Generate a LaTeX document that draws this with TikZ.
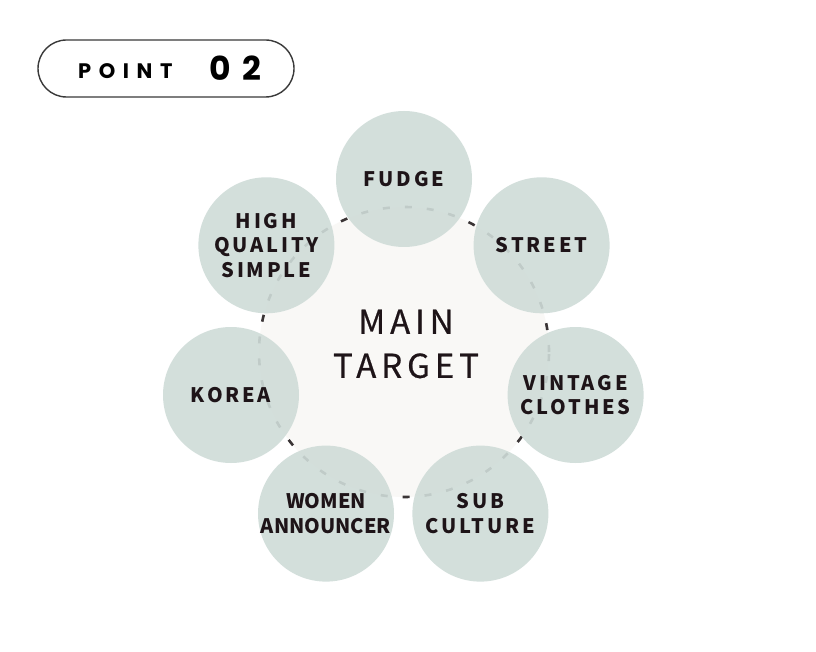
\documentclass[tikz,border=0pt]{standalone}
\usepackage{fontspec}
\usepackage{xcolor}
\usepackage{tikz}
\newfontfamily\lblfont{Noto Sans CJK KR}[LetterSpace=14]
\newfontfamily\hubfont{Noto Sans CJK KR}[LetterSpace=15,FakeBold=0.6]
\newfontfamily\tightfont{Noto Sans CJK KR}[LetterSpace=0]
\newfontfamily\badgefont{Poppins}[LetterSpace=36]
\definecolor{ink}{HTML}{1E1418}
\definecolor{sage}{HTML}{CFDCD8}
\definecolor{paper}{HTML}{F9F8F6}
\definecolor{dashc}{HTML}{3A3435}
\definecolor{rim}{HTML}{3A3A3A}

\begin{document}
\begin{tikzpicture}[
  x=1pt,
  y=-1pt,
  hub/.style={circle, draw=dashc, line width=2.6pt, dash pattern=on 7pt off 15pt, fill=paper, minimum size=290pt, inner sep=0pt},
  sat/.style={circle, fill=sage, fill opacity=0.9, text opacity=1, minimum size=136pt, inner sep=0pt, align=center, text=ink, font=\lblfont\bfseries\fontsize{20}{24.5}\selectfont},
  badge/.style={draw=rim, line width=1.4pt, rounded corners=28.5pt, minimum width=256pt, minimum height=57pt, inner sep=0pt}
]
  \useasboundingbox[fill=white] (0,0) rectangle (816,652);

  % badge
  \node[badge] (badge) at (166,68.5) {};
  \node[anchor=base west, inner sep=0pt, text=black, font=\badgefont\bfseries\fontsize{21}{21}\selectfont] (point) at (78,79) {POINT};
  \node[anchor=base west, inner sep=0pt, text=black, font=\badgefont\bfseries\fontsize{33}{33}\selectfont] (num) at (209,80.5) {02};

  % hub
  \node[hub] (hub) at (404,352) {};
  \node[align=center, text=ink, font=\hubfont\fontsize{33}{44}\selectfont] (hubtext) at (406,344) {MAIN\\TARGET};

  % targets
  \node[sat] (fudge) at (404,179) {FUDGE};
  \node[sat] (street) at (541.6,245.3) {STREET};
  \node[sat] (vintage) at (575.6,395) {VINTAGE\\CLOTHES};
  \node[sat] (sub) at (480.4,513.6) {SUB\\CULTURE};
  \node[sat, font=\tightfont\bfseries\fontsize{20}{24.5}\selectfont] (women) at (326,513.6) {WOMEN\\ANNOUNCER};
  \node[sat] (korea) at (231,395) {KOREA};
  \node[sat] (high) at (266.4,245.3) {HIGH\\QUALITY\\SIMPLE};
\end{tikzpicture}
\end{document}
